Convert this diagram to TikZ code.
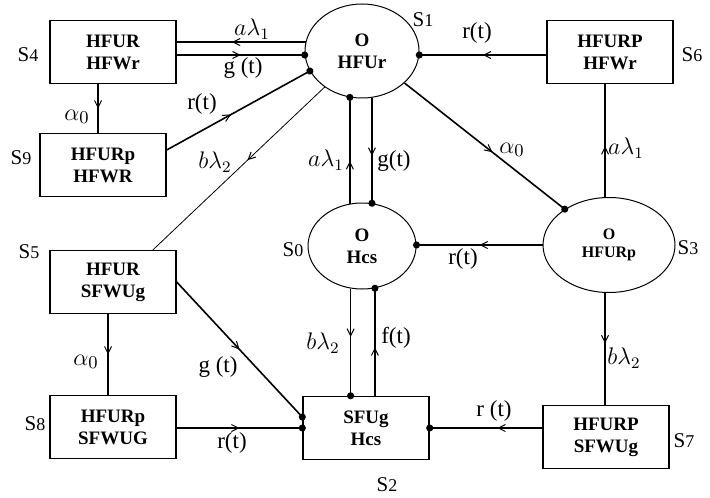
\documentclass[tikz,border=0pt]{standalone}
\usepackage{fontspec}
\setmainfont{Liberation Serif}
\usetikzlibrary{positioning, arrows.meta, decorations.markings, shapes.geometric}
\newcommand{\stname}[1]{S{\fontsize{9}{10}\selectfont #1}}
\tikzset{
  state/.style={draw, line width=0.7pt, minimum width=63pt, minimum height=31.5pt, inner sep=1pt, align=center, font=\bfseries\fontsize{9.5}{11}\selectfont},
  ostate/.style={draw, ellipse, line width=0.5pt, inner sep=0pt, align=center, font=\bfseries\fontsize{9.5}{11}\selectfont},
  stlabel/.style={inner sep=0pt, font=\fontsize{10.5}{12}\selectfont},
  lab/.style={inner sep=0pt, font=\fontsize{11.5}{13}\selectfont},
  alab/.style={inner sep=0pt, font=\fontsize{12.5}{14}\selectfont},
  link/.style={line width=0.8pt},
  thinlink/.style={line width=0.4pt},
  midarrow/.style={postaction={decorate}, decoration={markings, mark=at position #1 with {\arrow{Straight Barb[length=3.5pt,width=3.5pt,line width=0.5pt]}}}},
  midarrow/.default=0.5,
  dotend/.style={-{Circle[length=3.5pt]}, shorten >=-1.75pt}
}
\begin{document}
\begin{tikzpicture}[x=0.5pt, y=-0.5pt]
  \useasboundingbox (0,0) rectangle (710,497);

  \node[ostate, minimum width=57pt, minimum height=47pt] (s1) at (362,51) {O\\HFUr};
  \node[ostate, minimum width=54pt, minimum height=43pt] (s0) at (362,246) {O\\Hcs};
  \node[ostate, minimum width=66pt, minimum height=47.5pt, font=\bfseries\fontsize{8}{9}\selectfont] (s3) at (609,245) {O\\HFURp};
  \node[state] (s4) at (113,52) {HFUR\\HFWr};
  \node[state] (s9) at (103,165) {HFURp\\HFWR};
  \node[state] (s6) at (610,52) {HFURP\\HFWr};
  \node[state] (s5) at (113,282) {HFUR\\SFWUg};
  \node[state] (s8) at (113,427) {HFURp\\SFWUG};
  \node[state] (s2) at (366,428) {SFUg\\Hcs};
  \node[state] (s7) at (606,437) {HFURP\\SFWUg};

  \node[stlabel] (n1) at (423,20) {\stname{1}};
  \node[stlabel] (n0) at (293,250) {\stname{0}};
  \node[stlabel] (n3) at (688,248) {\stname{3}};
  \node[stlabel] (n4) at (28,55) {\stname{4}};
  \node[stlabel] (n9) at (21,158) {\stname{9}};
  \node[stlabel] (n6) at (692,55) {\stname{6}};
  \node[stlabel] (n5) at (29,252) {\stname{5}};
  \node[stlabel] (n8) at (35,424) {\stname{8}};
  \node[stlabel] (n2) at (387,485) {\stname{2}};
  \node[stlabel] (n7) at (684,441) {\stname{7}};

  \draw[link, midarrow=0.57] (s1.171) -- (s4.east |- s1.171);
  \draw[link, midarrow, dotend] (s4.east |- s1.184) -- (s1.184);
  \draw[link, midarrow=0.45, dotend] ([yshift=7.5pt]s9.east) -- (s1.201);
  \draw[link, midarrow] ([xshift=-7.5pt]s4.south) -- ([xshift=-7.5pt]s4.south |- s9.north);
  \draw[thinlink, midarrow=0.45] (s1.224) -- ([xshift=20pt]s5.north);
  \draw[link, midarrow=0.5, dotend] (s5.east) -- ([yshift=5.5pt]s2.west);
  \draw[link, midarrow] ([xshift=-2.5pt]s5.south) -- ([xshift=-2.5pt]s5.south |- s8.north);
  \draw[link, midarrow, dotend] (s8.east |- s2.west) -- (s2.west);
  \draw[link, midarrow=0.4, dotend] (s7.west |- s2.east) -- (s2.east);
  \draw[link, midarrow=0.45] ([xshift=-2pt]s3.south) -- ([xshift=-2pt]s3.south |- s7.north);
  \draw[link, midarrow=0.45] ([xshift=-2pt]s3.north) -- ([xshift=-2pt]s3.north |- s6.south);
  \draw[link, midarrow, dotend] (s6.west |- s1.356) -- (s1.356);
  \draw[link, midarrow=0.55, dotend] (s1.323) -- (s3.141);
  \draw[link, midarrow, dotend] (s3.west) -- (s3.west -| s0.east);
  \draw[link, midarrow=0.4, dotend] (s0.106) -- (s0.106 |- s1.255);
  \draw[link, midarrow=0.55, dotend] (s1.282) -- (s1.282 |- s0.77);
  \draw[link, midarrow=0.45, dotend] (s0.255) -- (s0.255 |- s2.north);
  \draw[link, midarrow=0.45, dotend] (s0.287 |- s2.north) -- (s0.287);

  \node[lab] (ta1) at (252,29) {$a\lambda_1$};
  \node[lab] (tg1) at (243,68) {g (t)};
  \node[lab] (tr1) at (202,104) {r(t)};
  \node[alab] (tal1) at (77,117) {$\alpha_0$};
  \node[lab] (tb1) at (215,162) {$b\lambda_2$};
  \node[lab] (ta2) at (326,160) {$a\lambda_1$};
  \node[lab] (tg2) at (394,161) {g(t)};
  \node[alab] (tal2) at (512,150) {$\alpha_0$};
  \node[lab] (ta3) at (626,148) {$a\lambda_1$};
  \node[lab] (tr2) at (477,33) {r(t)};
  \node[lab] (tr3) at (463,259) {r(t)};
  \node[lab] (tb2) at (624,358) {$b\lambda_2$};
  \node[lab] (tr4) at (494,411) {r (t)};
  \node[lab] (tf) at (396,338) {f(t)};
  \node[lab] (tb3) at (323,343) {$b\lambda_2$};
  \node[alab] (tal3) at (86,362) {$\alpha_0$};
  \node[lab] (tg3) at (218,367) {g (t)};
  \node[lab] (tr5) at (232,443) {r(t)};
\end{tikzpicture}
\end{document}
